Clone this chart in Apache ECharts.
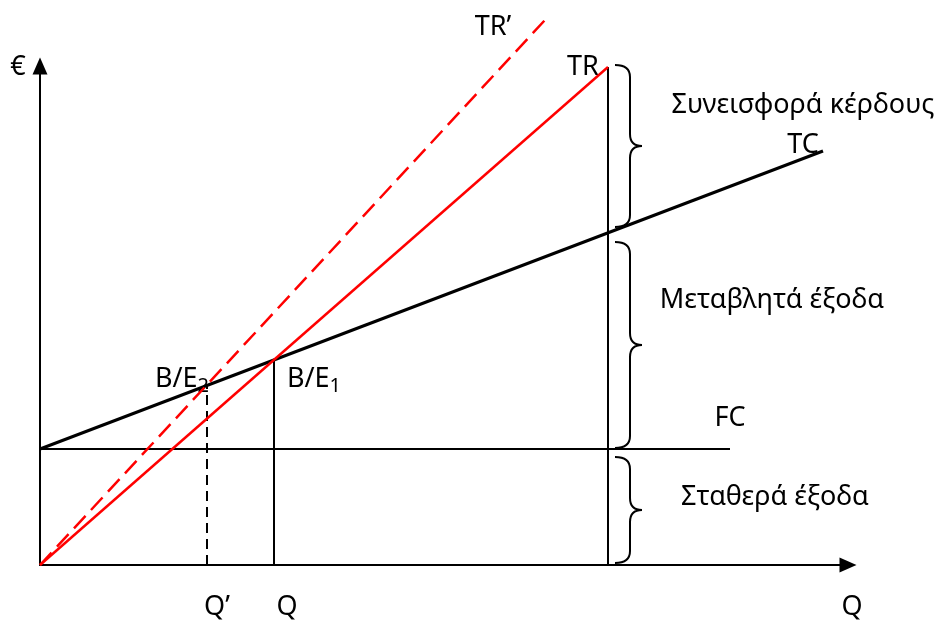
<!DOCTYPE html>
<html>
<head>
<meta charset="utf-8">
<script src="https://cdn.jsdelivr.net/npm/echarts@6/dist/echarts.min.js"></script>
<style>
  html, body { margin: 0; padding: 0; background: #fff; }
  #chart { width: 944px; height: 625px; }
</style>
</head>
<body>
<div id="chart"></div>
<script>
// values (Q on x, € on y)
const fcLine = [[0, 116], [690, 116]];
const tcLine = [[0, 116], [783, 414]];
const trLine = [[0, 0], [568, 498]];
const trPrimeLine = [[0, 0], [505, 545]];
const qLine = [[234, 0], [234, 205]];
const qPrimeLine = [[167, 0], [167, 179]];
const sideLine = [[568, 0], [568, 498]];
// braces: [low €, high €]
const braces = [[338, 500], [117, 323], [2, 108]];

const font = '"Noto Sans", "DejaVu Sans", sans-serif';
const chart = echarts.init(document.getElementById('chart'));

function txt(text, x, y, align) {
  return {
    type: 'text', x: x, y: y,
    style: { text: text, fontFamily: font, fontSize: 27, fill: '#000', align: align || 'center', verticalAlign: 'middle' }
  };
}
function sub(main, s, x, y) {
  return {
    type: 'text', x: x, y: y,
    style: {
      text: '{a|' + main + '}{s|' + s + '}', fill: '#000', align: 'left', verticalAlign: 'middle',
      rich: {
        a: { fontFamily: font, fontSize: 27, lineHeight: 30, verticalAlign: 'top' },
        s: { fontFamily: font, fontSize: 20, lineHeight: 20, verticalAlign: 'bottom', padding: [16, 0, 0, 0] }
      }
    }
  };
}
function plain(data, color, width, dash) {
  return {
    type: 'line', data: data, symbol: 'none', clip: false, silent: true,
    lineStyle: { color: color, width: width, type: dash || 'solid' }
  };
}

chart.setOption({
  animation: false,
  grid: { left: 40, right: 96, top: 66, bottom: 60 },
  xAxis: {
    type: 'value', min: 0, max: 808,
    axisLine: { onZero: false, symbol: ['none', 'triangle'], symbolSize: [15, 17], lineStyle: { color: '#000', width: 2 } },
    axisTick: { show: false }, axisLabel: { show: false }, splitLine: { show: false }
  },
  yAxis: {
    type: 'value', min: 0, max: 499,
    axisLine: { onZero: false, symbol: ['none', 'triangle'], symbolSize: [15, 17], lineStyle: { color: '#000', width: 2 } },
    axisTick: { show: false }, axisLabel: { show: false }, splitLine: { show: false }
  },
  series: [
    plain(fcLine, '#000', 2),
    plain(qLine, '#000', 2),
    plain(qPrimeLine, '#000', 2, [10, 6]),
    plain(sideLine, '#000', 2),
    plain(tcLine, '#000', 3),
    plain(trPrimeLine, '#ff0000', 2.5, [17, 8]),
    plain(trLine, '#ff0000', 2.5),
    {
      type: 'custom', data: braces, clip: false, silent: true,
      renderItem: function (params, api) {
        const top = api.coord([575, api.value(1)]);
        const bot = api.coord([575, api.value(0)]);
        const x0 = top[0], x1 = x0 + 15, x2 = x0 + 27, r = 12;
        const mid = (top[1] + bot[1]) / 2;
        const d = 'M' + x0 + ' ' + top[1] +
          ' Q' + x1 + ' ' + top[1] + ' ' + x1 + ' ' + (top[1] + r) +
          ' L' + x1 + ' ' + (mid - r) +
          ' Q' + x1 + ' ' + mid + ' ' + x2 + ' ' + mid +
          ' Q' + x1 + ' ' + mid + ' ' + x1 + ' ' + (mid + r) +
          ' L' + x1 + ' ' + (bot[1] - r) +
          ' Q' + x1 + ' ' + bot[1] + ' ' + x0 + ' ' + bot[1];
        return { type: 'path', shape: { pathData: d }, style: { fill: 'none', stroke: '#000', lineWidth: 2 } };
      }
    }
  ],
  graphic: [
    txt('€', 18, 67),
    txt('TR’', 493, 27),
    txt('TR', 583, 67),
    txt('Συνεισφορά κέρδους', 803, 105),
    txt('TC', 803, 145),
    txt('Μεταβλητά έξοδα', 772, 300),
    txt('FC', 730, 418),
    txt('Σταθερά έξοδα', 775, 497),
    sub('B/E', '2', 155, 381),
    sub('B/E', '1', 287, 381),
    txt('Q’', 217, 607),
    txt('Q', 287, 607),
    txt('Q', 852, 607)
  ]
});
</script>
</body>
</html>
